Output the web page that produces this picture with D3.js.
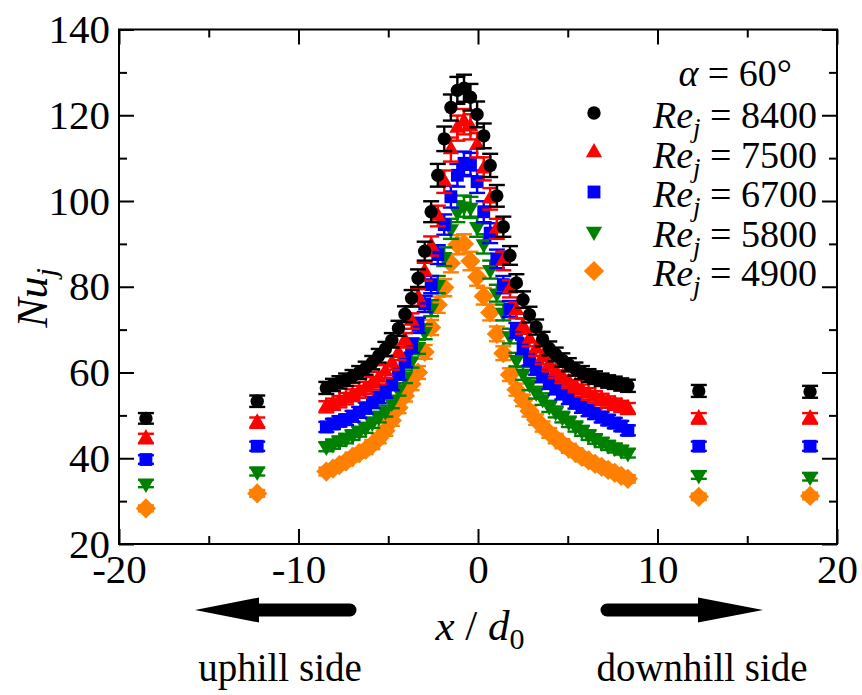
<!DOCTYPE html>
<html>
<head>
<meta charset="utf-8">
<script src="https://cdn.jsdelivr.net/npm/d3@7"></script>
<style>
  body { margin: 0; background: #fff; }
</style>
</head>
<body>
<svg id="chart" width="862" height="695" font-family="Liberation Serif"></svg>
<script>
// Measurement stations along the wall, x / d0 (uphill side negative)
const xPositions = [
  -18.5, -12.3,
  -8.45, -8.08, -7.72, -7.35, -6.99, -6.62, -6.26, -5.89, -5.53, -5.16,
  -4.80, -4.43, -4.07, -3.70, -3.34, -2.97, -2.61, -2.24, -1.88, -1.51,
  -1.15, -0.78, -0.42, -0.05, 0.32, 0.68, 1.05, 1.41, 1.78, 2.14,
  2.51, 2.87, 3.24, 3.60, 3.97, 4.33, 4.70, 5.06, 5.43, 5.79,
  6.16, 6.52, 6.89, 7.25, 7.62, 7.98, 8.35,
  12.3, 18.5
];

// Local Nusselt number Nu_j for each jet Reynolds number
const nuRe8400 = [
  49.3, 53.3,
  56.4, 57.1, 57.7, 58.3, 59.1, 60.0, 61.0, 62.3, 63.9, 65.5,
  67.5, 70.3, 73.6, 77.3, 82.0, 88.3, 97.5, 106.0, 114.5, 121.8,
  125.8, 126.3, 124.2, 120.2, 115.2, 108.3, 101.2, 94.0, 87.3, 80.9,
  77.0, 73.5, 70.6, 67.8, 65.6, 64.2, 62.9, 61.8, 60.8, 60.0,
  59.3, 58.8, 58.3, 57.9, 57.6, 57.2, 56.9,
  55.7, 55.5
];
const nuRe7500 = [
  44.6, 48.3,
  52.0, 52.6, 53.2, 53.9, 54.7, 55.5, 56.4, 57.5, 58.7, 60.2,
  62.2, 64.5, 67.5, 72.0, 77.5, 83.5, 89.5, 96.5, 104.5, 112.0,
  117.0, 118.5, 117.3, 113.0, 107.5, 100.5, 93.5, 86.0, 79.5, 74.5,
  70.8, 67.8, 65.5, 63.5, 61.8, 60.3, 59.0, 57.8, 56.8, 55.8,
  55.0, 54.3, 53.7, 53.1, 52.6, 52.1, 51.6,
  49.3, 49.3
];
const nuRe6700 = [
  39.7, 42.8,
  47.3, 48.0, 48.6, 49.0, 49.8, 50.7, 51.7, 53.0, 54.2, 55.5,
  57.3, 59.8, 62.8, 66.3, 71.0, 76.0, 80.5, 87.5, 94.5, 101.0,
  106.0, 108.8, 108.5, 104.5, 97.5, 92.5, 86.5, 80.5, 74.8, 69.8,
  66.0, 63.2, 61.0, 59.2, 57.6, 56.3, 55.1, 54.0, 52.9, 51.9,
  51.1, 50.4, 49.6, 48.9, 48.2, 47.5, 46.5,
  42.8, 42.8
];
const nuRe5800 = [
  34.1, 36.9,
  42.7, 43.3, 44.0, 44.6, 45.4, 46.2, 47.1, 48.3, 49.6, 51.0,
  53.0, 56.0, 59.0, 62.7, 66.0, 69.5, 75.0, 80.5, 87.0, 93.5,
  97.5, 98.8, 98.5, 94.0, 90.0, 84.0, 78.5, 74.0, 68.5, 63.0,
  59.8, 57.3, 55.3, 53.8, 52.1, 50.8, 49.6, 48.5, 47.4, 46.4,
  45.4, 44.5, 43.7, 43.0, 42.4, 41.9, 41.2,
  36.1, 35.7
];
const nuRe4900 = [
  28.3, 31.8,
  36.9, 37.6, 38.4, 39.3, 40.3, 41.2, 42.0, 43.2, 44.6, 46.4,
  48.8, 51.8, 54.6, 57.3, 60.0, 64.8, 70.5, 75.8, 79.8, 85.5,
  89.8, 90.0, 86.0, 82.3, 77.8, 74.0, 69.0, 64.5, 59.5, 56.0,
  53.5, 51.0, 49.0, 47.4, 45.9, 44.6, 43.4, 42.3, 41.3, 40.3,
  39.5, 38.7, 38.0, 37.3, 36.6, 35.9, 35.2,
  31.0, 31.2
];

// Relative measurement uncertainty of Nu_j
const relUncertainty = 0.025;

const reLabels = ["8400", "7500", "6700", "5800", "4900"];
const seriesValues = [nuRe8400, nuRe7500, nuRe6700, nuRe5800, nuRe4900];
const seriesColors = ["#000000", "#ff0000", "#0000ff", "#008000", "#ff8000"];
const seriesShapes = ["circle", "triUp", "square", "triDown", "diamond"];

const xMajorTicks = [-20, -10, 0, 10, 20];
const xMinorTicks = [-15, -5, 5, 15];
const yMajorTicks = [20, 40, 60, 80, 100, 120, 140];
const yMinorTicks = [30, 50, 70, 90, 110, 130];

const SERIF = "Liberation Serif";

const svg = d3.select("#chart");

const x = d3.scaleLinear().domain([-20, 20]).range([119, 837]);
const y = d3.scaleLinear().domain([20, 140]).range([544, 29.5]);

// marker shapes
const shapeDefs = {
  circle:  { type: d3.symbolCircle,   size: 140, rotate: 0 },
  triUp:   { type: d3.symbolTriangle, size: 115, rotate: 0 },
  square:  { type: d3.symbolSquare,   size: 165, rotate: 0 },
  triDown: { type: d3.symbolTriangle, size: 115, rotate: 180 },
  diamond: { type: d3.symbolSquare,   size: 205, rotate: 45 }
};

// ---- data: drawn from lowest Re up so the highest Re sits on top ----
const plot = svg.append("g");
for (let s = seriesValues.length - 1; s >= 0; s--) {
  const vals = seriesValues[s];
  const color = seriesColors[s];
  const pts = xPositions.map((xv, i) => ({ x: xv, v: vals[i] }));
  const g = plot.append("g");

  const err = g.selectAll("g.err").data(pts).join("g").attr("class", "err")
    .attr("stroke", color).attr("stroke-width", 2.4);
  err.append("line")
    .attr("x1", d => x(d.x)).attr("x2", d => x(d.x))
    .attr("y1", d => y(d.v * (1 - relUncertainty)))
    .attr("y2", d => y(d.v * (1 + relUncertainty)));
  err.append("line")
    .attr("x1", d => x(d.x) - 8).attr("x2", d => x(d.x) + 8)
    .attr("y1", d => y(d.v * (1 + relUncertainty)))
    .attr("y2", d => y(d.v * (1 + relUncertainty)));
  err.append("line")
    .attr("x1", d => x(d.x) - 8).attr("x2", d => x(d.x) + 8)
    .attr("y1", d => y(d.v * (1 - relUncertainty)))
    .attr("y2", d => y(d.v * (1 - relUncertainty)));

  const def = shapeDefs[seriesShapes[s]];
  g.selectAll("path.mk").data(pts).join("path").attr("class", "mk")
    .attr("d", d3.symbol().type(def.type).size(def.size)())
    .attr("fill", color)
    .attr("transform", d => `translate(${x(d.x)},${y(d.v)}) rotate(${def.rotate})`);
}

// ---- axes: inward ticks on all four sides ----
const tickFont = 41;
function styleAxis(g) {
  g.attr("font-family", SERIF).attr("font-size", tickFont);
  g.select(".domain").remove();
  g.selectAll(".tick line").attr("stroke", "#000").attr("stroke-width", 2);
  g.selectAll(".tick text").attr("fill", "#000").attr("font-family", SERIF);
}
const fmt = d => String(d);

svg.append("g").attr("transform", "translate(0,544)")
  .call(d3.axisBottom(x).tickValues(xMajorTicks).tickSize(-15).tickSizeOuter(0).tickPadding(10).tickFormat(fmt))
  .call(styleAxis);
svg.append("g").attr("transform", "translate(0,544)")
  .call(d3.axisBottom(x).tickValues(xMinorTicks).tickSize(-8).tickSizeOuter(0).tickFormat(""))
  .call(styleAxis);
svg.append("g").attr("transform", "translate(0,29.5)")
  .call(d3.axisTop(x).tickValues(xMajorTicks).tickSize(-15).tickSizeOuter(0).tickFormat(""))
  .call(styleAxis);
svg.append("g").attr("transform", "translate(0,29.5)")
  .call(d3.axisTop(x).tickValues(xMinorTicks).tickSize(-8).tickSizeOuter(0).tickFormat(""))
  .call(styleAxis);

svg.append("g").attr("transform", "translate(119,0)")
  .call(d3.axisLeft(y).tickValues(yMajorTicks).tickSize(-15).tickSizeOuter(0).tickPadding(9).tickFormat(fmt))
  .call(styleAxis);
svg.append("g").attr("transform", "translate(119,0)")
  .call(d3.axisLeft(y).tickValues(yMinorTicks).tickSize(-8).tickSizeOuter(0).tickFormat(""))
  .call(styleAxis);
svg.append("g").attr("transform", "translate(837,0)")
  .call(d3.axisRight(y).tickValues(yMajorTicks).tickSize(-15).tickSizeOuter(0).tickFormat(""))
  .call(styleAxis);
svg.append("g").attr("transform", "translate(837,0)")
  .call(d3.axisRight(y).tickValues(yMinorTicks).tickSize(-8).tickSizeOuter(0).tickFormat(""))
  .call(styleAxis);

// frame
svg.append("rect")
  .attr("x", x(-20)).attr("y", y(140))
  .attr("width", x(20) - x(-20)).attr("height", y(20) - y(140))
  .attr("fill", "none").attr("stroke", "#000").attr("stroke-width", 2);

// helper for serif text
function addText(parent, px, py, size, anchor) {
  return parent.append("text").attr("x", px).attr("y", py)
    .attr("font-family", SERIF).attr("font-size", size)
    .attr("text-anchor", anchor).attr("fill", "#000");
}

// ---- axis titles ----
const yTitle = svg.append("text")
  .attr("transform", "translate(47,298) rotate(-90)")
  .attr("font-family", SERIF).attr("text-anchor", "middle").attr("font-size", 44);
yTitle.append("tspan").attr("font-style", "italic").text("Nu");
yTitle.append("tspan").attr("font-style", "italic").attr("font-size", 30).attr("dy", 9).text("j");

const xTitle = addText(svg, 480, 640, 43, "middle");
xTitle.append("tspan").attr("font-style", "italic").text("x");
xTitle.append("tspan").text(" / ");
xTitle.append("tspan").attr("font-style", "italic").text("d");
xTitle.append("tspan").attr("font-size", 30).attr("dy", 9).text("0");

// ---- direction arrows and side labels ----
svg.append("line").attr("x1", 250).attr("x2", 350).attr("y1", 610).attr("y2", 610)
  .attr("stroke", "#000").attr("stroke-width", 13).attr("stroke-linecap", "round");
svg.append("path").attr("d", "M195,610 L259,597.5 L259,622.5 Z").attr("fill", "#000");
svg.append("line").attr("x1", 607).attr("x2", 705).attr("y1", 610).attr("y2", 610)
  .attr("stroke", "#000").attr("stroke-width", 13).attr("stroke-linecap", "round");
svg.append("path").attr("d", "M763,610 L698,597.5 L698,622.5 Z").attr("fill", "#000");

addText(svg, 280, 681, 39, "middle").text("uphill side");
addText(svg, 702, 681, 39, "middle").text("downhill side");

// ---- legend ----
const legend = svg.append("g");
const alphaText = addText(legend, 792, 85.5, 38, "end");
alphaText.append("tspan").attr("font-style", "italic").text("\u03b1");
alphaText.append("tspan").text(" = 60\u00b0");

const rowBaselines = [128, 167.5, 207, 246.5, 286];
reLabels.forEach((lab, i) => {
  const def = shapeDefs[seriesShapes[i]];
  legend.append("path")
    .attr("d", d3.symbol().type(def.type).size(def.size)())
    .attr("fill", seriesColors[i])
    .attr("transform", `translate(594,${rowBaselines[i] - 15}) rotate(${def.rotate})`);
  const t = addText(legend, 817, rowBaselines[i], 38, "end");
  t.append("tspan").attr("font-style", "italic").text("Re");
  t.append("tspan").attr("font-style", "italic").attr("font-size", 27).attr("dy", 9).text("j");
  t.append("tspan").attr("dy", -9).text(" = " + lab);
});
</script>
</body>
</html>
